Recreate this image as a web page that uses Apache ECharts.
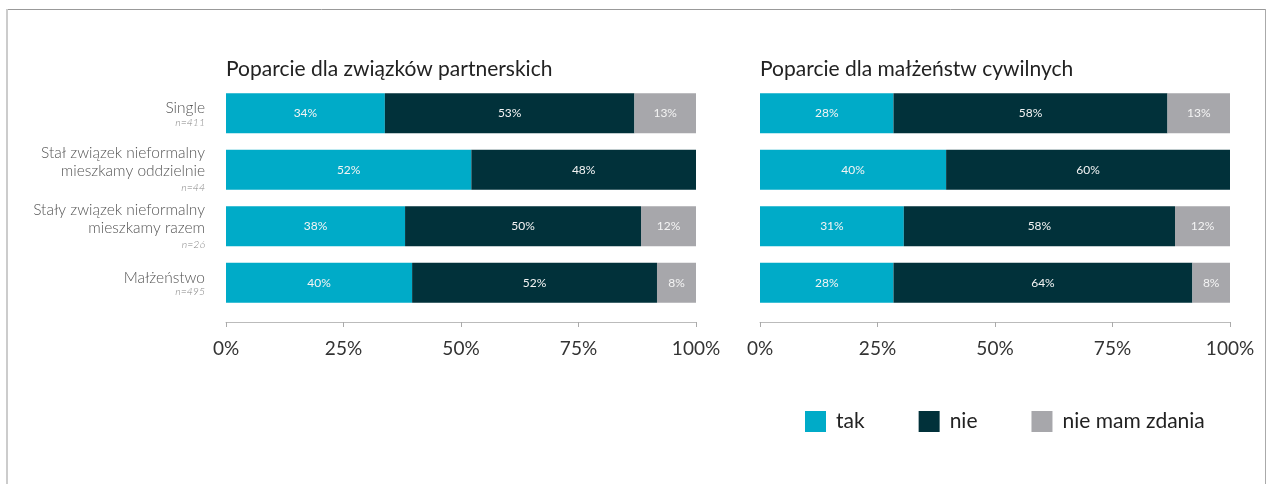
<!DOCTYPE html>
<html><head><meta charset="utf-8">
<script src="https://cdn.jsdelivr.net/npm/echarts@6/dist/echarts.min.js"></script>
<style>html,body{margin:0;padding:0;background:#fff}#c{width:1269px;height:484px}</style>
</head><body><div id="c"></div>
<script>
var categories = ['Single','Stał związek nieformalny\nmieszkamy oddzielnie','Stały związek nieformalny\nmieszkamy razem','Małżeństwo'];
var sampleSizes = ['n=411','n=44','n=26','n=495'];
var seriesNames = ['tak','nie','nie mam zdania'];
var titles = ['Poparcie dla związków partnerskich','Poparcie dla małżeństw cywilnych'];
var leftTak = [33.8, 52.2, 38.1, 39.6];
var leftNie = [53.1, 47.8, 50.2, 52.1];
var leftNmz = [13.1, 0, 11.7, 8.3];
var rightTak = [28.4, 39.6, 30.6, 28.4];
var rightNie = [58.3, 60.4, 57.7, 63.6];
var rightNmz = [13.3, 0, 11.7, 8.0];
var tickLabels = ['0%','25%','50%','75%','100%'];

var colors = ['#00abc8','#01313a','#a7a7ab'];
var FONT = 'Lato';
var chart = echarts.init(document.getElementById('c'));

function xAx(gi){
  return {type:'value', gridIndex:gi, min:0, max:100, interval:25, offset:11,
    axisLine:{show:true, lineStyle:{color:'#bbb'}},
    axisTick:{show:true, length:5, inside:false, lineStyle:{color:'#aaa'}},
    splitLine:{show:false},
    axisLabel:{fontFamily:FONT, fontSize:19, color:'#333', margin:17,
      formatter:function(v){return tickLabels[Math.round(v/25)];}}};
}
function yAx(gi, showLabels){
  return {type:'category', gridIndex:gi, inverse:true, data:categories,
    axisLine:{show:false}, axisTick:{show:false},
    axisLabel:{show:showLabels, margin:21, align:'right', fontFamily:FONT, fontWeight:300, fontSize:15.5, color:'#555', lineHeight:18,
      formatter:function(v,i){
        if (v.indexOf('\n') < 0) return '{s|'+v+'}\n{n|'+sampleSizes[i]+'}';
        return v+'\n{n|'+sampleSizes[i]+'}';
      },
      rich:{
        s:{fontFamily:FONT, fontWeight:300, fontSize:15.5, color:'#555', lineHeight:18, padding:[8,0,3,0]},
        n:{fontFamily:FONT, fontStyle:'italic', fontWeight:300, fontSize:10.5, color:'#888', lineHeight:15}}}};
}
function ser(name, data, idx, gi){
  return {name:name, type:'bar', stack:'s'+gi, xAxisIndex:gi, yAxisIndex:gi, data:data, barWidth:40,
    itemStyle:{color:colors[idx]},
    label:{show:true, position:'inside', fontFamily:FONT, fontWeight:'normal', fontSize:12, color:'#f4f4f4',
      formatter:function(p){return p.value>0 ? Math.round(p.value)+'%' : '';}}};
}
chart.setOption({
  animation:false,
  textStyle:{fontFamily:FONT},
  title:[
    {text:titles[0], left:221, top:54, textStyle:{fontFamily:FONT, fontSize:21, fontWeight:'normal', color:'#222'}},
    {text:titles[1], left:755, top:54, textStyle:{fontFamily:FONT, fontSize:21, fontWeight:'normal', color:'#222'}}
  ],
  legend:{left:800, top:406, itemWidth:21, itemHeight:21, itemGap:54, icon:'rect',
    data:seriesNames,
    textStyle:{fontFamily:FONT, fontSize:21, color:'#222', padding:[0,0,0,5]}},
  grid:[
    {left:226, width:470, top:85, height:226},
    {left:760, width:470, top:85, height:226}
  ],
  xAxis:[xAx(0), xAx(1)],
  yAxis:[yAx(0,true), yAx(1,false)],
  series:[
    ser(seriesNames[0], leftTak, 0, 0), ser(seriesNames[1], leftNie, 1, 0), ser(seriesNames[2], leftNmz, 2, 0),
    ser(seriesNames[0], rightTak, 0, 1), ser(seriesNames[1], rightNie, 1, 1), ser(seriesNames[2], rightNmz, 2, 1)
  ],
  graphic:[
    {type:'line', shape:{x1:7, y1:9.5, x2:1265, y2:9.5}, style:{stroke:'#999', lineWidth:1}},
    {type:'line', shape:{x1:7, y1:9, x2:7, y2:484}, style:{stroke:'#ccc', lineWidth:2}},
    {type:'line', shape:{x1:1265.5, y1:9, x2:1265.5, y2:484}, style:{stroke:'#aaa', lineWidth:1}}
  ]
});
</script></body></html>
